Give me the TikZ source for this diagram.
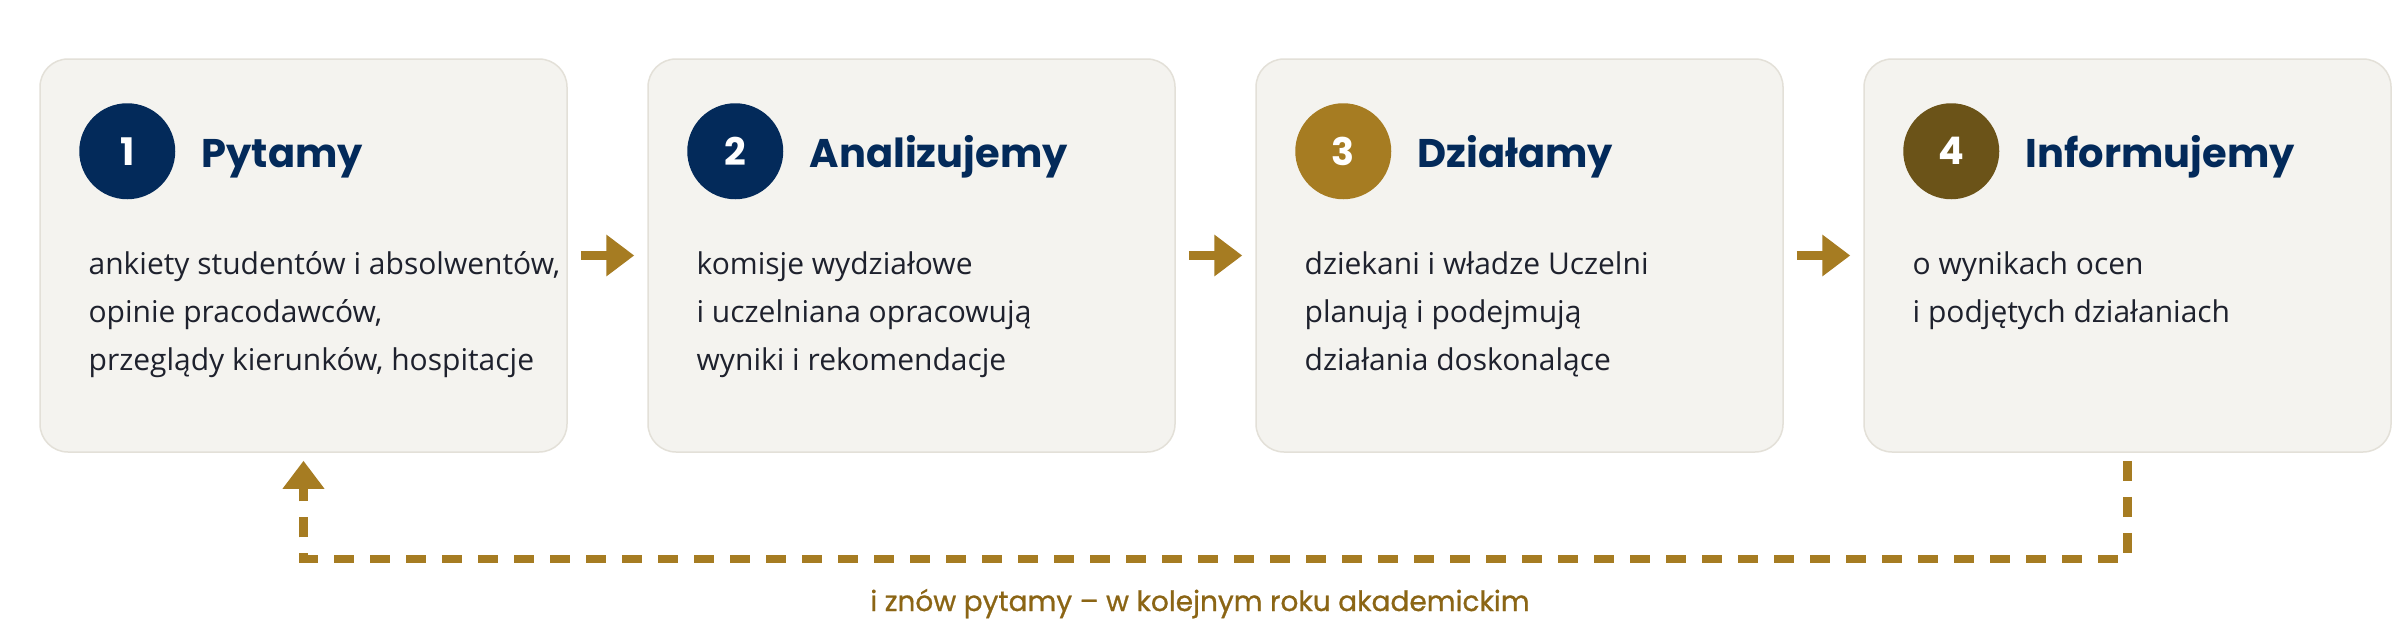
\documentclass[tikz,border=0pt]{standalone}
\usepackage{fontspec}
\setmainfont{Open Sans}
\newfontfamily\headfont{Poppins}
\newfontfamily\notefont{Poppins}[FakeBold=0.8]
\usetikzlibrary{arrows.meta,positioning,calc}

\definecolor{navy}{RGB}{3,42,90}
\definecolor{gold}{RGB}{166,124,34}
\definecolor{umber}{RGB}{107,83,24}
\definecolor{notecol}{RGB}{139,101,21}
\definecolor{cardfill}{RGB}{244,243,239}
\definecolor{cardline}{RGB}{227,224,216}
\definecolor{bodytext}{RGB}{30,33,45}

\tikzset{every picture/.style={line width=0.75pt}}

\begin{document}
\begin{tikzpicture}[x=1pt,y=1pt,yscale=-1,xscale=1,
  card/.style={draw=cardline, fill=cardfill, line width=1.5pt, rounded corners=28pt, minimum width=527pt, minimum height=393pt, inner sep=0pt},
  badge/.style={circle, minimum size=96pt, inner sep=0pt, text=white, font=\headfont\bfseries\fontsize{38}{38}\selectfont},
  cardtitle/.style={anchor=base west, inner sep=0pt, text=navy, font=\headfont\bfseries\fontsize{40}{40}\selectfont},
  cardtext/.style={anchor=north west, inner sep=0pt, align=left, text=bodytext, font=\fontsize{30}{48}\selectfont},
  flow/.style={draw=gold, line width=8.5pt, -{Triangle[length=28pt,width=40pt]}},
  loopback/.style={draw=gold, line width=8.5pt, dash pattern={on 20pt off 16pt}, -{Triangle[length=28pt,width=40pt]}},
  loopnote/.style={anchor=base, inner sep=0pt, text=notecol, font=\notefont\fontsize{28}{28}\selectfont}]
%set diagram left start at 0, and has height of 640
\fill[white] (0,0) rectangle (2400,640);
\useasboundingbox (0,0) rectangle (2400,640);

%Cards: badge, title, text
\foreach \n/\ccol/\ctitle/\ctext [count=\k from 0] in {
  1/navy/Pytamy/{ankiety studentów i absolwentów,\\opinie pracodawców,\\przeglądy kierunków, hospitacje},
  2/navy/Analizujemy/{komisje wydziałowe\\i uczelniana opracowują\\wyniki i rekomendacje},
  3/gold/Działamy/{dziekani i władze Uczelni\\planują i podejmują\\działania doskonalące},
  4/umber/Informujemy/{o wynikach ocen\\i podjętych działaniach}}
{
  \node[card] (card\n) at (303.5+608*\k,255.5) {};
  \node[badge, fill=\ccol] (badge\n) at ($(card\n.north west)+(88,93)$) {\n};
  \node[cardtitle] (title\n) at ($(card\n.north west)+(162,109)$) {\ctitle};
  \node[cardtext] (text\n) at ($(card\n.north west)+(49,182.4)$) {\strut\ctext};
}

%Straight Lines: flow arrows
\foreach \a/\b in {1/2,2/3,3/4}
  \draw[flow] ($(card\a.east)+(13,0)$) -- ($(card\b.west)+(-13,0)$);

%Dashed Lines: back to the first card
\coordinate (loopmid) at (1200,559);
\draw[loopback] ($(card4.south)+(0,8)$) |- (loopmid) -| ($(card1.south)+(0,8)$);
\node[loopnote] (note) at (1200,611) {i znów pytamy – w kolejnym roku akademickim};

\end{tikzpicture}
\end{document}
